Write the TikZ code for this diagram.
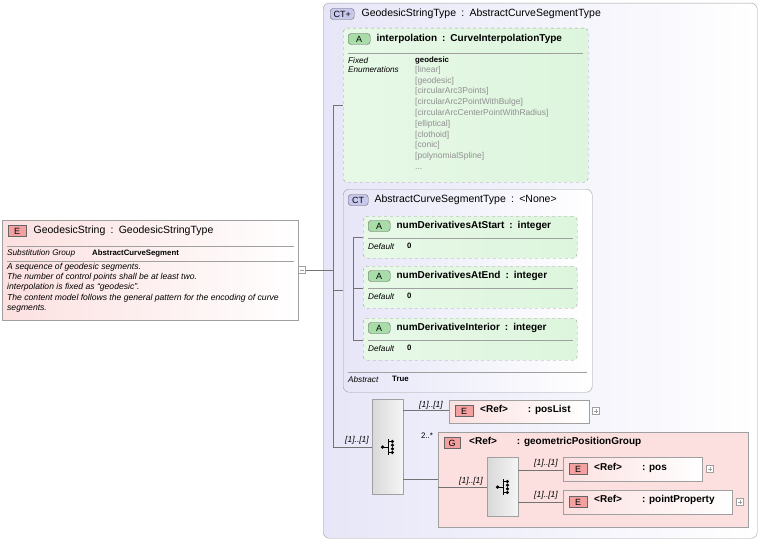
\documentclass[tikz,border=0pt]{standalone}
\usepackage{fontspec}
\setmainfont{Liberation Sans}
\usetikzlibrary{positioning}
\definecolor{ctfill}{HTML}{E6E6F8}
\definecolor{attfill}{HTML}{DDF5DD}
\definecolor{elfill}{HTML}{FCE0E0}
\definecolor{badgeE}{HTML}{F2A0A0}
\definecolor{badgeA}{HTML}{A8DCA8}
\definecolor{badgeCT}{HTML}{C8C8EE}
\definecolor{frame}{HTML}{A0A0A0}
\definecolor{enumgray}{HTML}{909090}
\tikzset{
  ctbox/.style={draw=frame, rounded corners=6pt, left color=ctfill, right color=white, anchor=north west},
  attbox/.style={draw=frame, dashed, rounded corners=4pt, left color=attfill!70, right color=attfill, anchor=north west},
  elbox/.style={draw=frame, left color=elfill, right color=white, anchor=north west},
  grpbox/.style={draw=frame, fill=elfill, anchor=north west},
  seqbox/.style={draw=frame, left color=gray!30, right color=gray!8, anchor=north west},
  badge/.style={draw=black!60, minimum height=11pt, inner sep=1pt, font=\fontsize{9}{10}\selectfont, anchor=west},
  ttl/.style={font=\fontsize{10.5}{11}\selectfont, anchor=west, inner sep=0pt},
  ttlb/.style={font=\fontsize{10}{11}\selectfont\bfseries, anchor=west, inner sep=0pt},
  small/.style={font=\fontsize{8.2}{9}\selectfont\itshape, anchor=west, inner sep=0pt},
  smallb/.style={font=\fontsize{7.8}{9}\selectfont\bfseries, anchor=west, inner sep=0pt},
  enum/.style={font=\fontsize{8.5}{10.8}\selectfont, text=enumgray, align=left, anchor=north west, inner sep=0pt},
  card/.style={font=\fontsize{8.5}{9}\selectfont\itshape, inner sep=0pt},
  pbox/.style={draw=frame, fill=white, minimum size=7pt, inner sep=0pt},
  conn/.style={draw=black!55},
  seqicon/.pic={
    \fill (-5,0) circle (1.6);
    \draw (-5,0) -- (0,0) (0,-7) -- (0,7);
    \foreach \k in {-5,-1.7,1.7,5} \fill (4,\k) circle (1.6);
    \draw (0,-5) -- (4,-5) (0,5) -- (4,5);
  }
}
\newcommand{\plusbox}[2]{\node[pbox] (#1) at (#2) {};
  \draw[frame] ([xshift=-2pt]#1.center) -- ([xshift=2pt]#1.center) ([yshift=-2pt]#1.center) -- ([yshift=2pt]#1.center);}
\newcommand{\sep}{\hspace{0.5em}:\hspace{0.5em}}
\begin{document}
\begin{tikzpicture}[x=1pt,y=-1pt]
\useasboundingbox (0,0) rectangle (762,543);

% Left: the element
\node[elbox, minimum width=296pt, minimum height=100pt] (gs) at (2,220) {};
\node[badge, fill=badgeE, minimum width=18pt] (gsb) at (8,231) {E};
\node[ttl, right=7pt of gsb] {GeodesicString\sep GeodesicStringType};
\draw[frame] (7,246) -- (294,246) (7,261) -- (294,261);
\node[small] at (7,253) {Substitution Group};
\node[smallb] at (92,253) {AbstractCurveSegment};
\node[small, anchor=north west, align=left, font=\fontsize{8.6}{10.2}\selectfont\itshape] at (7,263)
  {A sequence of geodesic segments.\\The number of control points shall be at least two.\\interpolation is fixed as ``geodesic''.\\The content model follows the general pattern for the encoding of curve\\segments.};
\node[pbox] (gsm) at (302,270) {};
\draw[frame] ([xshift=-2pt]gsm.center) -- ([xshift=2pt]gsm.center);

% Complex type
\node[ctbox, minimum width=434pt, minimum height=535pt] (ct) at (323,3) {};
\node[badge, fill=badgeCT, minimum width=24pt, rounded corners=3pt] (ctb) at (330,14) {CT+};
\node[ttl, right=7pt of ctb] {GeodesicStringType\sep AbstractCurveSegmentType};

% interpolation attribute
\node[attbox, minimum width=245pt, minimum height=154pt] (interp) at (343,28) {};
\node[badge, fill=badgeA, minimum width=22pt, rounded corners=3pt] (ib) at (348,39) {A};
\node[ttlb, right=6pt of ib] {interpolation\sep CurveInterpolationType};
\draw[frame] (348,53) -- (583,53);
\node[small, anchor=north west, align=left] at (348,57) {Fixed\\Enumerations};
\node[smallb, anchor=north west] at (415,57) {geodesic};
\node[enum] at (415,66) {{[linear]}\\{[geodesic]}\\{[circularArc3Points]}\\{[circularArc2PointWithBulge]}\\{[circularArcCenterPointWithRadius]}\\{[elliptical]}\\{[clothoid]}\\{[conic]}\\{[polynomialSpline]}\\...};

% base type
\node[ctbox, minimum width=249pt, minimum height=203pt] (base) at (343,189) {};
\node[badge, fill=badgeCT, minimum width=20pt, rounded corners=3pt] (bb) at (348,200) {CT};
\node[ttl, right=6pt of bb] {AbstractCurveSegmentType\sep <None>};
\foreach \y/\n/\t in {216/a1/numDerivativesAtStart, 266/a2/numDerivativesAtEnd, 318/a3/numDerivativeInterior}{
  \node[attbox, minimum width=214pt, minimum height=42pt] (\n) at (363,\y) {};
  \node[badge, fill=badgeA, minimum width=22pt, rounded corners=3pt] (\n b) at (368,\y+10) {A};
  \node[ttlb, right=6pt of \n b] {\t\sep integer};
  \draw[frame] (368,\y+22) -- (573,\y+22);
  \node[small] at (368,\y+31) {Default};
  \node[smallb] at (407,\y+30) {0};
}
\draw[frame] (348,372) -- (587,372);
\node[small] at (348,380) {Abstract};
\node[smallb] at (392,379) {True};

% sequence
\node[seqbox, minimum width=31pt, minimum height=95pt] (seq) at (372,399) {};
\pic[scale=1.1] at (388,447) {seqicon};
\node[elbox, minimum width=140pt, minimum height=23pt] (plist) at (449,400) {};
\node[badge, fill=badgeE, minimum width=18pt] (pb) at (455,411) {E};
\node[ttlb] at (480,410) {<Ref>\qquad: posList};
\plusbox{p1}{596,411}

% group
\node[grpbox, minimum width=310pt, minimum height=95pt] (grp) at (438,432) {};
\node[badge, fill=badgeE, minimum width=16pt] (gb) at (444,443) {G};
\node[ttlb] at (469,442) {<Ref>\qquad: geometricPositionGroup};
\node[card, font=\fontsize{8}{9}\selectfont] at (427,436) {2..*};
\node[seqbox, minimum width=31pt, minimum height=59pt] (seq2) at (487,457) {};
\pic[scale=1.1] at (503,487) {seqicon};
\node[elbox, minimum width=139pt, minimum height=24pt] (pos) at (563,457) {};
\node[badge, fill=badgeE, minimum width=18pt] (pob) at (569,469) {E};
\node[ttlb] at (594,468) {<Ref>\qquad: pos};
\plusbox{p2}{710,469}
\node[elbox, minimum width=169pt, minimum height=24pt] (ppr) at (563,490) {};
\node[badge, fill=badgeE, minimum width=18pt] (ppb) at (569,502) {E};
\node[ttlb] at (594,500) {<Ref>\qquad: pointProperty};
\plusbox{p3}{740,502}

% connectors
\coordinate (j1) at (333,270);
\coordinate (j2) at (353,237);
\draw[conn] (gsm) -- (j1);
\draw[conn] (333,105) |- (seq.west |- 0,447);
\draw[conn] (333,105) -- (interp.west |- 0,105);
\draw[conn] (333,290) -- (base.west |- 0,290);
\draw[conn] (j2) |- (a3.west |- 0,340);
\draw[conn] (j2) -- (a1.west |- 0,237);
\draw[conn] (353,288) -- (a2.west |- 0,288);
\node[card] at (357,440) {[1]..[1]};
\draw[conn] (seq.east |- 0,410) -- (plist.west |- 0,410);
\node[card] at (431,405) {[1]..[1]};
\draw[conn] (seq.east |- 0,479) -- (grp.west |- 0,479);
\draw[conn] (grp.west |- 0,487) -- (seq2.west |- 0,487);
\node[card] at (471,481) {[1]..[1]};
\draw[conn] (seq2.east |- 0,470) -- (pos.west |- 0,470);
\node[card] at (546,463) {[1]..[1]};
\draw[conn] (seq2.east |- 0,502) -- (ppr.west |- 0,502);
\node[card] at (546,495) {[1]..[1]};
\end{tikzpicture}
\end{document}
